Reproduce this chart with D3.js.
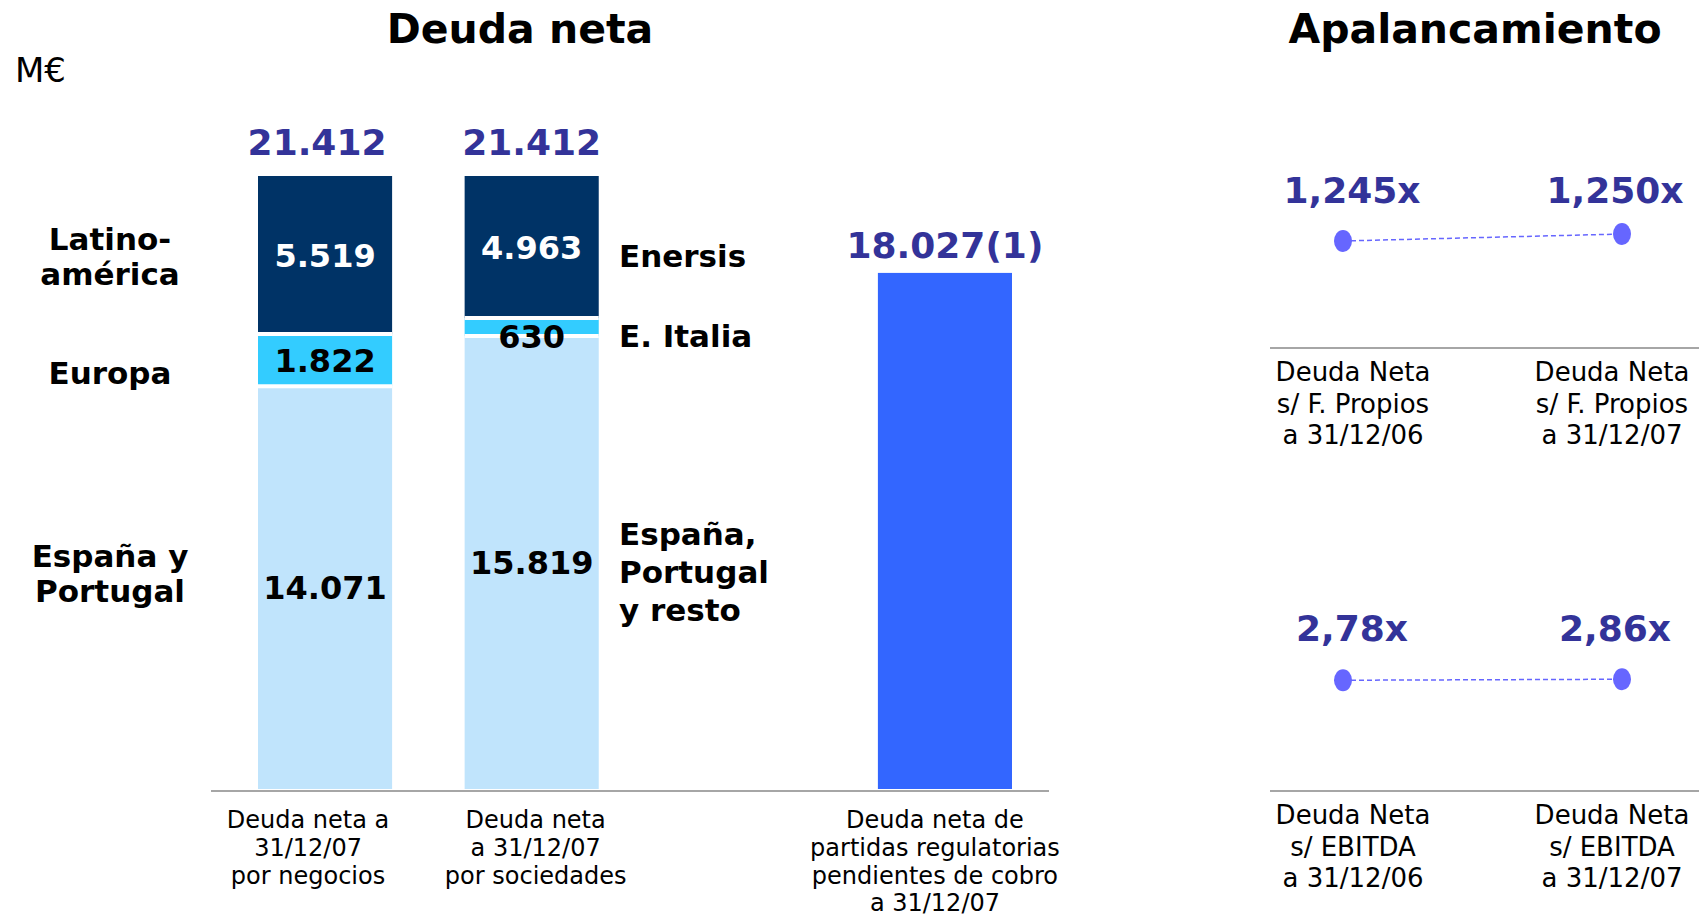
<!DOCTYPE html>
<html lang="es">
<head>
<meta charset="utf-8">
<title>Deuda neta y apalancamiento</title>
<script src="https://cdn.jsdelivr.net/npm/d3@7"></script>
<style>
body {
margin: 0;
background: #fff;
}
text {
font-family: "DejaVu Sans", Verdana, sans-serif;
}
.bold {
font-weight: bold;
}
</style>
</head>
<body>
<script>
{
    // ---- datos (M€) ----
    var barKeys = ["negocios", "sociedades", "hueco", "regulatorias"];  // "hueco" = espacio vacio
    var barLabels = [
        ["Deuda neta a", "31/12/07", "por negocios"],
        ["Deuda neta", "a 31/12/07", "por sociedades"],
        [],
        ["Deuda neta de", "partidas regulatorias", "pendientes de cobro", "a 31/12/07"]
    ];
    // de abajo hacia arriba
    var negociosNames = [["España y", "Portugal"], ["Europa"], ["Latino-", "américa"]];
    var negociosValues = [14071, 1822, 5519];
    var sociedadesNames = [["España,", "Portugal", "y resto"], ["E. Italia"], ["Enersis"]];
    var sociedadesValues = [15819, 630, 4963];
    var regulatoriasValue = 18027;
    var regulatoriasNote = "(1)";

    var levCats = ["31/12/06", "31/12/07"];
    var levRows = ["s/ F. Propios", "s/ EBITDA"];
    var fondosPropios = [1.245, 1.250];
    var ebitdaRatio = [2.78, 2.86];

    var segColors = ["#C0E4FC", "#33CCFF", "#003366"];
    var segText = ["#000", "#000", "#fff"];

    var w = 1701, h = 918;
    var svg = d3.select("body")
        .append("svg")
        .attr("width", w)
        .attr("height", h)
        .style("display", "block")
        .style("background-color", "#fff");

    var es = d3.formatLocale({decimal: ",", thousands: ".", grouping: [3], currency: ["", "€"]});
    var fmtInt = es.format(",d");

    // ---- titulos ----
    svg.append("text").attr("class", "bold")
        .attr("x", 520).attr("y", 43)
        .attr("text-anchor", "middle")
        .style("font-size", "41px")
        .text("Deuda neta");
    svg.append("text").attr("class", "bold")
        .attr("x", 1475).attr("y", 43)
        .attr("text-anchor", "middle")
        .style("font-size", "41px")
        .text("Apalancamiento");
    svg.append("text")
        .attr("x", 15).attr("y", 82)
        .style("font-size", "34px")
        .text("M€");

    // ---- barras ----
    var x = d3.scaleBand()
        .domain(barKeys)
        .range([258, 1012])
        .paddingInner(0.351)
        .paddingOuter(0);

    var rows = [
        {key: "negocios", s0: negociosValues[0], s1: negociosValues[1], s2: negociosValues[2]},
        {key: "sociedades", s0: sociedadesValues[0], s1: sociedadesValues[1], s2: sociedadesValues[2]}
    ];
    var totals = rows.map(function(r){ return r.s0 + r.s1 + r.s2; });

    var y = d3.scaleLinear()
        .domain([0, d3.max(totals)])
        .range([789, 176]);

    var series = d3.stack().keys(["s0", "s1", "s2"])(rows);

    var bars = svg.append("g");

    series.forEach(function(layer, i){
        bars.selectAll(".seg" + i)
            .data(layer)
            .enter().append("rect")
            .attr("class", "seg" + i)
            .attr("x", function(d){ return x(d.data.key); })
            .attr("y", function(d){ return y(d[1]); })
            .attr("width", x.bandwidth())
            .attr("height", function(d){ return y(d[0]) - y(d[1]); })
            .attr("fill", segColors[i]);
    });

    // separadores blancos entre segmentos
    series.forEach(function(layer, i){
        if (i == 0) return;
        bars.selectAll(".sep" + i)
            .data(layer)
            .enter().append("line")
            .attr("x1", function(d){ return x(d.data.key); })
            .attr("x2", function(d){ return x(d.data.key) + x.bandwidth(); })
            .attr("y1", function(d){ return y(d[0]); })
            .attr("y2", function(d){ return y(d[0]); })
            .attr("stroke", "#fff")
            .attr("stroke-width", 4);
    });

    // valores dentro de segmentos
    series.forEach(function(layer, i){
        bars.selectAll(".val" + i)
            .data(layer)
            .enter().append("text")
            .attr("class", "bold")
            .attr("x", function(d){ return x(d.data.key) + x.bandwidth()/2; })
            .attr("y", function(d){
                var top = y(d[1]), bot = y(d[0]);
                if (bot - top < 30) return bot + 12;
                return (top + bot)/2 + 11.5;
            })
            .attr("text-anchor", "middle")
            .style("font-size", "32px")
            .attr("fill", function(d){
                return (y(d[0]) - y(d[1]) < 30) ? "#000" : segText[i];
            })
            .text(function(d){ return fmtInt(d[1] - d[0]); });
    });

    // totales
    var totalNudge = [-8, 0];
    bars.selectAll(".total")
        .data(rows)
        .enter().append("text")
        .attr("class", "bold")
        .attr("x", function(d, i){ return x(d.key) + x.bandwidth()/2 + totalNudge[i]; })
        .attr("y", function(d, i){ return y(totals[i]) - 21; })
        .attr("text-anchor", "middle")
        .style("font-size", "36px")
        .attr("fill", "#333399")
        .text(function(d, i){ return fmtInt(totals[i]); });

    // barra partidas regulatorias
    bars.append("rect")
        .attr("x", x("regulatorias"))
        .attr("y", y(regulatoriasValue))
        .attr("width", x.bandwidth())
        .attr("height", y(0) - y(regulatoriasValue))
        .attr("fill", "#3366FF");
    bars.append("text")
        .attr("class", "bold")
        .attr("x", x("regulatorias") + x.bandwidth()/2)
        .attr("y", y(regulatoriasValue) - 15)
        .attr("text-anchor", "middle")
        .style("font-size", "36px")
        .attr("fill", "#333399")
        .text(fmtInt(regulatoriasValue) + regulatoriasNote);

    // eje base
    svg.append("line")
        .attr("x1", 211).attr("x2", 1049)
        .attr("y1", y(0) + 2).attr("y2", y(0) + 2)
        .attr("stroke", "#A6A6A6")
        .attr("stroke-width", 2);

    function multiline(g, lines, px, cy, lh, size, anchor, bold){
        var first = cy - (lines.length - 1) * lh / 2 + size * 0.365;
        lines.forEach(function(l, k){
            g.append("text")
                .attr("class", bold ? "bold" : null)
                .attr("x", px)
                .attr("y", first + k * lh)
                .attr("text-anchor", anchor)
                .style("font-size", size + "px")
                .attr("fill", "#000")
                .text(l);
        });
    }

    // etiquetas de segmento a izquierda y derecha
    var leftShift = [-14, 13, 1];
    series.forEach(function(layer, i){
        var d = layer[0];
        multiline(svg, negociosNames[i], 110, (y(d[0]) + y(d[1]))/2 + leftShift[i], 35, 31, "middle", true);
        var s = layer[1];
        multiline(svg, sociedadesNames[i], 619, (y(s[0]) + y(s[1]))/2 + 9, 38, 31, "start", true);
    });

    // categorias
    var labelNudge = [-17, 4, 0, -10];
    barKeys.forEach(function(k, i){
        barLabels[i].forEach(function(l, j){
            svg.append("text")
                .attr("x", x(k) + x.bandwidth()/2 + labelNudge[i])
                .attr("y", 828 + j * 27.8)
                .attr("text-anchor", "middle")
                .style("font-size", "24px")
                .text(l);
        });
    });

    // ---- apalancamiento ----
    var lx = d3.scalePoint()
        .domain(levCats)
        .range([1343, 1622]);

    var levPanels = [
        {values: fondosPropios, fmt: es.format(".3f"), axisY: 348, labelY: 203,
         ys: d3.scaleLinear().domain([1.2, 1.3]).range([304, 164])},
        {values: ebitdaRatio, fmt: es.format(".2f"), axisY: 791, labelY: 641,
         ys: d3.scaleLinear().domain([2.0, 3.6]).range([690, 670])}
    ];

    levPanels.forEach(function(p, r){
        var g = svg.append("g");

        g.append("line")
            .attr("x1", 1270).attr("x2", 1699)
            .attr("y1", p.axisY).attr("y2", p.axisY)
            .attr("stroke", "#A6A6A6")
            .attr("stroke-width", 2);

        var line = d3.line()
            .x(function(d, i){ return lx(levCats[i]); })
            .y(function(d){ return p.ys(d); });

        g.append("path")
            .datum(p.values)
            .attr("d", line)
            .attr("fill", "none")
            .attr("stroke", "#6666FF")
            .attr("stroke-width", 1.5)
            .attr("stroke-dasharray", "5,3");

        g.selectAll(".dot")
            .data(p.values)
            .enter().append("ellipse")
            .attr("class", "dot")
            .attr("cx", function(d, i){ return lx(levCats[i]); })
            .attr("cy", function(d){ return p.ys(d); })
            .attr("rx", 9)
            .attr("ry", 11)
            .attr("fill", "#6666FF");

        g.selectAll(".lev")
            .data(p.values)
            .enter().append("text")
            .attr("class", "bold")
            .attr("x", function(d, i){ return lx(levCats[i]) + (i == 0 ? 9 : -7); })
            .attr("y", p.labelY)
            .attr("text-anchor", "middle")
            .style("font-size", "36px")
            .attr("fill", "#333399")
            .text(function(d){ return p.fmt(d) + "x"; });

        levCats.forEach(function(c, i){
            var lines = ["Deuda Neta", levRows[r], "a " + c];
            lines.forEach(function(l, j){
                g.append("text")
                    .attr("x", lx(c) + (i == 0 ? 10 : -10))
                    .attr("y", p.axisY + 33 + j * 31.5)
                    .attr("text-anchor", "middle")
                    .style("font-size", "26px")
                    .text(l);
            });
        });
    });
}
</script>
</body>
</html>
